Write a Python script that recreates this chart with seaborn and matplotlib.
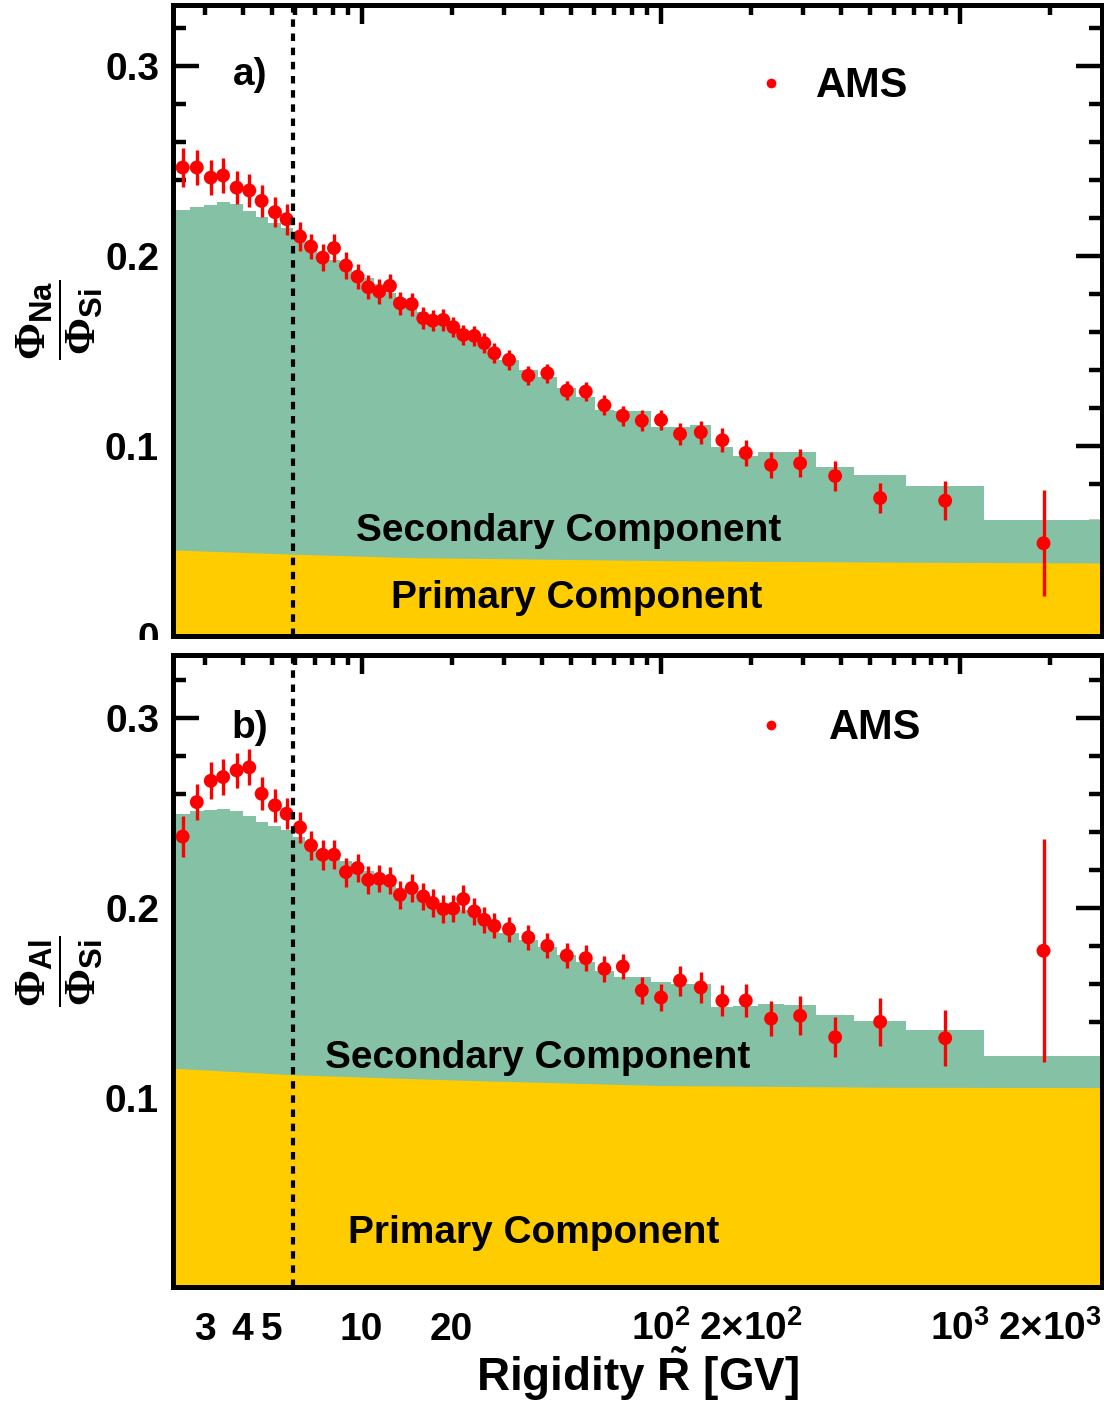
import numpy as np
import matplotlib
matplotlib.use('Agg')
import matplotlib.pyplot as plt
import seaborn as sns
from matplotlib.lines import Line2D
from matplotlib.patches import Rectangle

sns.set_style('ticks')
plt.rcParams['font.family'] = ['Liberation Sans', 'DejaVu Sans']
plt.rcParams['font.weight'] = 'bold'
plt.rcParams['text.color'] = 'black'
plt.rcParams['axes.labelcolor'] = 'black'
plt.rcParams['xtick.color'] = 'black'
plt.rcParams['ytick.color'] = 'black'
plt.rcParams['xtick.labelcolor'] = 'black'
plt.rcParams['ytick.labelcolor'] = 'black'
plt.rcParams['mathtext.fontset'] = 'custom'
plt.rcParams['mathtext.rm'] = 'Liberation Serif'
plt.rcParams['mathtext.bf'] = 'Liberation Sans:bold'
plt.rcParams['mathtext.it'] = 'Liberation Sans:italic:bold'
plt.rcParams['mathtext.sf'] = 'Liberation Sans:bold'

# ---------------- data ----------------
bin_edges = [2.15, 2.67, 2.97, 3.29, 3.64, 4.02, 4.43, 4.88, 5.37, 5.90, 6.47, 7.09, 7.76,
             8.48, 9.26, 10.1, 11.0, 12.0, 13.0, 14.1, 15.3, 16.6, 18.0, 19.5, 21.1, 22.8,
             24.7, 26.7, 28.8, 33.5, 38.9, 45.1, 52.2, 60.3, 69.7, 80.5, 93.0, 108, 125,
             147, 175, 211, 259, 330, 441, 660, 1200, 3000]

rigidity = [2.52, 2.81, 3.13, 3.44, 3.82, 4.21, 4.63, 5.13, 5.61, 6.22, 6.77, 7.41, 8.08,
            8.86, 9.69, 10.52, 11.45, 12.43, 13.43, 14.70, 16.07, 17.28, 18.75, 20.25,
            21.87, 23.80, 25.70, 27.77, 31.09, 36.08, 41.76, 48.50, 56.14, 64.79, 74.65,
            86.43, 100.2, 116.0, 136.1, 160.7, 192.4, 233.8, 292.4, 382.8, 541.3, 893, 1904]

na_si = [0.2465, 0.2465, 0.2412, 0.2423, 0.2359, 0.2344, 0.2289, 0.2230, 0.2193, 0.2102,
         0.2049, 0.1991, 0.2041, 0.1949, 0.1891, 0.1835, 0.1812, 0.1842, 0.1751, 0.1746,
         0.1672, 0.1659, 0.1663, 0.1625, 0.1584, 0.1579, 0.1541, 0.1488, 0.1453, 0.1370,
         0.1383, 0.1291, 0.1286, 0.1214, 0.1159, 0.1133, 0.1137, 0.1063, 0.1072, 0.1030,
         0.0963, 0.0900, 0.0909, 0.0842, 0.0726, 0.0712, 0.0488]
na_si_err = [0.0105, 0.0092, 0.0092, 0.0092, 0.0088, 0.0086, 0.0082, 0.0080, 0.0082, 0.0076,
             0.0068, 0.0070, 0.0075, 0.0069, 0.0064, 0.0062, 0.0065, 0.0065, 0.0061, 0.0061,
             0.0057, 0.0056, 0.0056, 0.0054, 0.0053, 0.0053, 0.0053, 0.0054, 0.0052, 0.0050,
             0.0050, 0.0050, 0.0050, 0.0052, 0.0052, 0.0054, 0.0054, 0.0057, 0.0061, 0.0062,
             0.0066, 0.0068, 0.0075, 0.0078, 0.0080, 0.0103, 0.0278]

al_si = [0.2375, 0.2556, 0.2668, 0.2688, 0.2723, 0.2739, 0.2600, 0.2539, 0.2495, 0.2423,
         0.2328, 0.2279, 0.2279, 0.2188, 0.2209, 0.2147, 0.2153, 0.2142, 0.2068, 0.2104,
         0.2060, 0.2025, 0.1993, 0.1996, 0.2046, 0.1981, 0.1937, 0.1905, 0.1888, 0.1844,
         0.1800, 0.1749, 0.1735, 0.1679, 0.1691, 0.1565, 0.1528, 0.1617, 0.1581, 0.1511,
         0.1512, 0.1417, 0.1432, 0.1319, 0.1400, 0.1314, 0.1774]
al_si_err = [0.0108, 0.0095, 0.0097, 0.0095, 0.0094, 0.0094, 0.0088, 0.0086, 0.0083, 0.0080,
             0.0078, 0.0079, 0.0076, 0.0076, 0.0075, 0.0073, 0.0072, 0.0072, 0.0072, 0.0072,
             0.0072, 0.0072, 0.0072, 0.0072, 0.0073, 0.0070, 0.0068, 0.0066, 0.0066, 0.0066,
             0.0066, 0.0066, 0.0068, 0.0068, 0.0068, 0.0070, 0.0070, 0.0079, 0.0080, 0.0082,
             0.0089, 0.0092, 0.0103, 0.0105, 0.0125, 0.0147, 0.0586]

# model: total (secondary + primary), per bin
na_model_total = [0.2242, 0.2256, 0.2270, 0.2283, 0.2274, 0.2238, 0.2204, 0.2175, 0.2146, 0.2111,
                  0.2050, 0.2010, 0.1979, 0.1940, 0.1905, 0.1882, 0.1853, 0.1804, 0.1777, 0.1730,
                  0.1707, 0.1681, 0.1654, 0.1619, 0.1593, 0.1567, 0.1532, 0.1496, 0.1453, 0.1400,
                  0.1362, 0.1304, 0.1256, 0.1189, 0.1184, 0.1184, 0.1100, 0.1100, 0.1111, 0.0996,
                  0.0949, 0.0967, 0.0967, 0.0891, 0.0847, 0.0791, 0.0611]
al_model_total = [0.2495, 0.2507, 0.2516, 0.2519, 0.2511, 0.2481, 0.2454, 0.2432, 0.2409, 0.2375,
                  0.2332, 0.2288, 0.2261, 0.2247, 0.2209, 0.2191, 0.2147, 0.2121, 0.2104, 0.2086,
                  0.2060, 0.2042, 0.2025, 0.2007, 0.1989, 0.1963, 0.1937, 0.1902, 0.1867, 0.1832,
                  0.1796, 0.1753, 0.1717, 0.1665, 0.1635, 0.1635, 0.1607, 0.1600, 0.1598, 0.1480,
                  0.1482, 0.1495, 0.1488, 0.1435, 0.1402, 0.1358, 0.1221]

# primary component
na_prim_R = [2.34, 6.0, 15, 29, 125, 700, 3000]
na_prim = [0.0453, 0.0430, 0.0412, 0.0407, 0.0395, 0.0388, 0.0384]
al_prim_R = [2.34, 6.0, 21.5, 100, 550, 3000]
al_prim = [0.1156, 0.1121, 0.1093, 0.1065, 0.1056, 0.1054]

cut_R = 5.9
xlim = (2.34, 2980)

x_major = [10, 100, 1000]
x_major_labels = ['10', r'$\mathbf{10^{2}}$', r'$\mathbf{10^{3}}$']
x_minor = [3, 4, 5, 6, 7, 8, 9, 20, 30, 40, 50, 60, 70, 80, 90,
           200, 300, 400, 500, 600, 700, 800, 900, 2000]
x_minor_labels = ['3', '4', '5', '', '', '', '', '20', '', '', '', '', '', '', '',
                  r'$\mathbf{2{\times}10^{2}}$', '', '', '', '', '', '', '',
                  r'$\mathbf{2{\times}10^{3}}$']

GREEN = '#85C1A5'
YELLOW = '#FFCC00'
RED = '#FF0000'

W, H = 1104, 1403
fig = plt.figure(figsize=(W / 100, H / 100), dpi=100)


def axrect(left, top, right, bottom):
    return [left / W, 1 - bottom / H, (right - left) / W, (bottom - top) / H]


ax1 = fig.add_axes(axrect(173, 5, 1101.7, 636))
ax2 = fig.add_axes(axrect(173, 655, 1101.7, 1287))


def panel(ax, total, prim_R, prim, ratio, err, ylim, yt, ytl, show_x):
    ax.set_xscale('log')
    ax.stairs(total, bin_edges, baseline=0, fill=True, color=GREEN, lw=0, zorder=1)
    ax.fill_between(prim_R, 0, prim, color=YELLOW, lw=0, zorder=2)
    ax.errorbar(rigidity, ratio, yerr=err, fmt='none', ecolor=RED, elinewidth=2.4,
                capsize=0, zorder=4)
    sns.scatterplot(x=rigidity, y=ratio, ax=ax, color=RED, s=100, edgecolor='none',
                    linewidth=0, zorder=5, legend=False)
    ax.axvline(cut_R, color='black', lw=3.0, ls=(0, (1.8, 1.6)), zorder=6)
    ax.set_xlim(*xlim)
    ax.set_ylim(*ylim)
    ax.set_yticks(yt, ytl)
    ax.set_yticks([v for v in np.arange(0.02, 0.335, 0.02) if abs(v * 10 - round(v * 10)) > 1e-6],
                  minor=True)
    if show_x:
        ax.set_xticks(x_major, x_major_labels)
        ax.set_xticks(x_minor, x_minor_labels, minor=True)
    else:
        ax.set_xticks(x_major, [''] * len(x_major))
        ax.set_xticks(x_minor, [''] * len(x_minor), minor=True)
    for s in ax.spines.values():
        s.set_linewidth(3.6)
        s.set_color('black')
        s.set_zorder(7)
    ax.tick_params(axis='both', which='both', direction='in', top=True, right=True,
                   width=3.2, color='black', labelcolor='black', labelsize=28, zorder=7)
    ax.tick_params(axis='x', which='major', length=14, pad=38)
    ax.tick_params(axis='x', which='minor', length=7.5, pad=38)
    ax.tick_params(axis='y', which='major', length=19, pad=10)
    ax.tick_params(axis='y', which='minor', length=9.5)
    ax.set_xlabel('')
    ax.set_ylabel('')
    if show_x:
        for lab in ax.get_xticklabels(which='both'):
            lab.set_verticalalignment('baseline')


panel(ax1, na_model_total, na_prim_R, na_prim, na_si, na_si_err, (0, 0.332),
      [0, 0.1, 0.2, 0.3], ['0', '0.1', '0.2', '0.3'], False)
panel(ax2, al_model_total, al_prim_R, al_prim, al_si, al_si_err, (0.0005, 0.333),
      [0.1, 0.2, 0.3], ['0.1', '0.2', '0.3'], True)

# texts
ax1.text(0.083, 0.889, 'a)', transform=ax1.transAxes, ha='center', va='center', fontsize=28)
ax2.text(0.083, 0.8845, 'b)', transform=ax2.transAxes, ha='center', va='center', fontsize=28)
ax1.text(0.4259, 0.166, 'Secondary Component', transform=ax1.transAxes, ha='center',
         va='center', fontsize=28, zorder=8)
ax1.text(0.435, 0.0598, 'Primary Component', transform=ax1.transAxes, ha='center',
         va='center', fontsize=28, zorder=8)
ax2.text(0.3925, 0.362, 'Secondary Component', transform=ax2.transAxes, ha='center',
         va='center', fontsize=28, zorder=8)
ax2.text(0.3887, 0.085, 'Primary Component', transform=ax2.transAxes, ha='center',
         va='center', fontsize=28, zorder=8)

handle = Line2D([0], [0], marker='o', ls='none', color=RED, markeredgewidth=0, markersize=7)
ax1.legend([handle], ['AMS'], loc='center left', bbox_to_anchor=(0.621, 0.871),
           frameon=False, fontsize=30, handlelength=1.0, handletextpad=0.6,
           borderpad=0, borderaxespad=0)
ax2.legend([handle], ['AMS'], loc='center left', bbox_to_anchor=(0.621, 0.884),
           frameon=False, fontsize=30, handlelength=1.0, handletextpad=0.89,
           borderpad=0, borderaxespad=0)

fig.text(60 / W, 1 - 320 / H, r'$\dfrac{\Phi_{\mathbf{Na}}}{\Phi_{\mathbf{Si}}}$',
         rotation=90, ha='center', va='center', fontsize=32)
fig.text(60 / W, 1 - 971 / H, r'$\dfrac{\Phi_{\mathbf{Al}}}{\Phi_{\mathbf{Si}}}$',
         rotation=90, ha='center', va='center', fontsize=32)
fig.text(637.5 / W, 1 - 1391 / H, r'Rigidity $\tilde{\mathbf{R}}$ [GV]', ha='center',
         va='baseline', fontsize=33)

# the "0" label of the upper panel is cut off in the original
fig.add_artist(Rectangle((90 / W, 1 - 652 / H), 80 / W, 12 / H, transform=fig.transFigure,
                         facecolor='white', edgecolor='none', zorder=10))

fig.savefig('out.png', dpi=100, facecolor='white')
